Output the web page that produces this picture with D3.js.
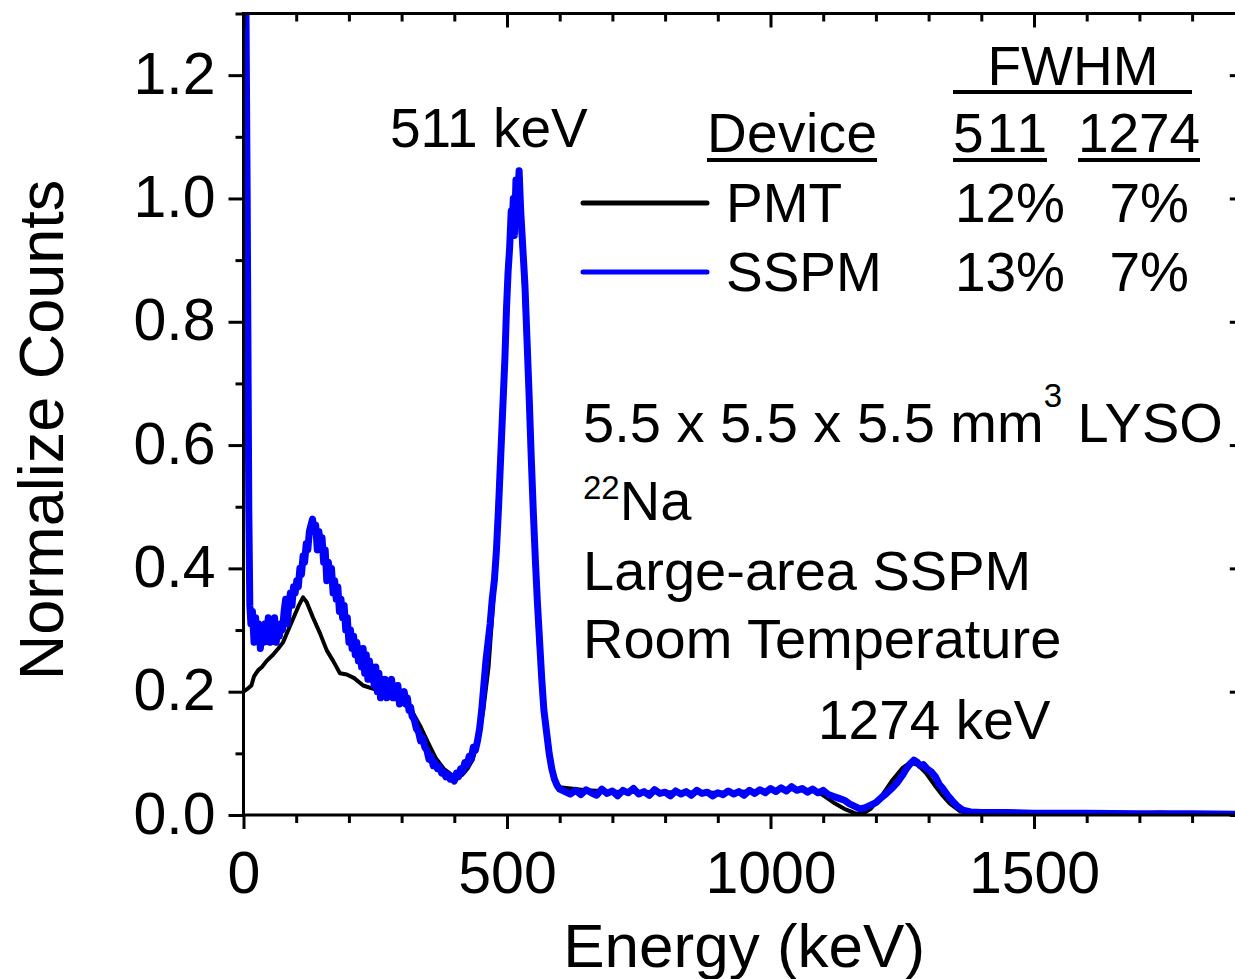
<!DOCTYPE html>
<html>
<head>
<meta charset="utf-8">
<script src="https://cdn.jsdelivr.net/npm/d3@7"></script>
<style>
  html, body { margin: 0; padding: 0; background: #fff; }
  svg text { font-family: Arial, "Liberation Sans", sans-serif; fill: #000; }
</style>
</head>
<body>
<div id="chart"></div>
<script>
// Axis ticks
const xMajor = [0, 500, 1000, 1500];
const xMinor = [100, 200, 300, 400, 600, 700, 800, 900, 1100, 1200, 1300, 1400, 1600, 1700, 1800];
const yMajor = [0, 0.2, 0.4, 0.6, 0.8, 1.0, 1.2];
const yMinor = [0.1, 0.3, 0.5, 0.7, 0.9, 1.1, 1.3];

// PMT spectrum (energy keV, normalized counts)
const pmtEnergy = [0, 8, 15, 20, 28, 35, 44, 56, 66, 75, 85, 95, 105, 113, 120, 132, 145, 158, 170, 183, 196,
  210, 227, 245, 265, 285, 305, 320, 335, 350, 365, 380, 395, 405, 415, 425, 435, 445, 455, 465, 475,
  485, 495, 505, 512, 518, 524, 530, 540, 550, 560, 570, 580, 590, 600, 650, 700, 800, 900, 1000, 1050,
  1080, 1100, 1120, 1140, 1160, 1175, 1190, 1210, 1230, 1250, 1265, 1280, 1295, 1310, 1325, 1340, 1360,
  1380, 1500, 1700, 1740, 1780, 1900];
const pmtCounts = [0.20, 0.205, 0.21, 0.225, 0.235, 0.24, 0.25, 0.26, 0.27, 0.28, 0.30, 0.32, 0.34, 0.353, 0.345,
  0.32, 0.295, 0.267, 0.25, 0.23, 0.228, 0.222, 0.21, 0.205, 0.20, 0.197, 0.188, 0.168, 0.145, 0.118, 0.092,
  0.075, 0.065, 0.062, 0.065, 0.075, 0.09, 0.12, 0.17, 0.24, 0.36, 0.55, 0.75, 0.91, 0.98, 1.0, 0.97, 0.90,
  0.70, 0.47, 0.28, 0.16, 0.09, 0.058, 0.045, 0.04, 0.038, 0.037, 0.036, 0.04, 0.042, 0.04, 0.032, 0.02,
  0.01, 0.003, 0.002, 0.01, 0.03, 0.055, 0.076, 0.085, 0.081, 0.068, 0.05, 0.033, 0.019, 0.006, 0.002,
  0.001, 0.002, 0.004, 0.002, 0.001];

// SSPM spectrum (energy keV, normalized counts)
const sspmEnergy = [0, 4, 7, 10, 12, 14, 17, 20, 23, 26, 29, 32, 35, 38, 41, 44, 47, 50, 53, 56, 59, 62, 65, 68,
  71, 74, 77, 80, 83, 86, 89, 92, 95, 98, 101, 104, 107, 110, 113, 116, 119, 122, 125, 128, 131, 134, 137,
  140, 143, 146, 149, 152, 155, 158, 161, 164, 167, 170, 173, 176, 179, 182, 185, 188, 191, 194, 197, 200,
  203, 206, 209, 212, 215, 218, 221, 224, 227, 230, 233, 236, 239, 242, 245, 248, 251, 254, 257, 260, 263,
  266, 269, 272, 275, 278, 281, 284, 287, 290, 293, 296, 299, 302, 305, 308, 311, 314, 317, 320, 324, 328,
  332, 336, 340, 344, 348, 352, 356, 360, 364, 368, 372, 376, 380, 384, 388, 392, 396, 400, 404, 408, 412,
  416, 420, 424, 428, 432, 436, 440, 444, 448, 452, 456, 460, 464, 468, 472, 476, 480, 484, 488, 492, 496,
  499, 502, 505, 508, 510, 512, 514, 517, 520, 523, 526, 530, 534, 538, 542, 546, 550, 554, 558, 562, 566,
  570, 575, 580, 585, 590, 595, 600, 610, 620, 630, 640, 650, 660, 670, 680, 690, 700, 710, 720, 730, 740,
  750, 760, 770, 780, 790, 800, 810, 820, 830, 840, 850, 860, 870, 880, 890, 900, 910, 920, 930, 940, 950,
  960, 970, 980, 990, 1000, 1010, 1020, 1030, 1040, 1050, 1060, 1070, 1080, 1090, 1100, 1110, 1120, 1130,
  1140, 1150, 1160, 1170, 1180, 1190, 1200, 1210, 1220, 1230, 1240, 1250, 1258, 1265, 1272, 1278, 1284,
  1290, 1297, 1305, 1313, 1320, 1328, 1336, 1345, 1355, 1365, 1380, 1400, 1450, 1500, 1600, 1700, 1800, 1900];
const sspmCounts = [1.40, 1.40, 1.00, 0.50, 0.34, 0.31, 0.33, 0.28, 0.32, 0.29, 0.31, 0.27, 0.30, 0.28, 0.31,
  0.29, 0.32, 0.28, 0.31, 0.29, 0.32, 0.28, 0.30, 0.29, 0.31, 0.30, 0.33, 0.35, 0.31, 0.34, 0.36, 0.34, 0.37,
  0.36, 0.38, 0.37, 0.40, 0.39, 0.42, 0.41, 0.44, 0.43, 0.46, 0.47, 0.48, 0.46, 0.47, 0.43, 0.46, 0.44, 0.45,
  0.41, 0.43, 0.38, 0.41, 0.39, 0.40, 0.36, 0.38, 0.35, 0.37, 0.33, 0.35, 0.32, 0.34, 0.30, 0.32, 0.28, 0.30,
  0.27, 0.29, 0.26, 0.28, 0.25, 0.27, 0.24, 0.27, 0.23, 0.26, 0.22, 0.25, 0.22, 0.24, 0.21, 0.24, 0.20, 0.23,
  0.19, 0.22, 0.20, 0.22, 0.19, 0.21, 0.20, 0.22, 0.19, 0.21, 0.19, 0.21, 0.18, 0.20, 0.19, 0.20, 0.18, 0.19,
  0.17, 0.175, 0.16, 0.155, 0.14, 0.135, 0.12, 0.125, 0.11, 0.105, 0.09, 0.095, 0.08, 0.085, 0.075, 0.078,
  0.068, 0.07, 0.062, 0.066, 0.058, 0.062, 0.055, 0.068, 0.062, 0.075, 0.07, 0.085, 0.08, 0.095, 0.09, 0.11,
  0.105, 0.12, 0.14, 0.17, 0.21, 0.25, 0.28, 0.31, 0.35, 0.38, 0.43, 0.50, 0.58, 0.66, 0.74, 0.82, 0.88,
  0.92, 0.98, 0.96, 1.00, 0.94, 1.03, 1.00, 1.045, 0.98, 0.92, 0.86, 0.77, 0.68, 0.58, 0.49, 0.41, 0.34, 0.28,
  0.22, 0.17, 0.135, 0.10, 0.075, 0.058, 0.048, 0.042, 0.038, 0.034, 0.040, 0.033, 0.041, 0.036, 0.032,
  0.042, 0.035, 0.039, 0.031, 0.040, 0.036, 0.043, 0.034, 0.038, 0.032, 0.041, 0.035, 0.037, 0.031, 0.039,
  0.034, 0.038, 0.032, 0.040, 0.035, 0.037, 0.031, 0.036, 0.033, 0.039, 0.034, 0.038, 0.032, 0.040, 0.035,
  0.041, 0.036, 0.043, 0.038, 0.044, 0.039, 0.046, 0.040, 0.043, 0.037, 0.042, 0.036, 0.040, 0.033, 0.030,
  0.027, 0.024, 0.018, 0.014, 0.010, 0.012, 0.016, 0.020, 0.028, 0.035, 0.043, 0.052, 0.064, 0.075, 0.083,
  0.089, 0.086, 0.080, 0.082, 0.075, 0.070, 0.062, 0.050, 0.042, 0.032, 0.023, 0.014, 0.008, 0.005, 0.004,
  0.004, 0.003, 0.003, 0.002, 0.002, 0.001, 0.001];

// Legend / FWHM table
const devices = ["PMT", "SSPM"];
const deviceColors = ["#000000", "#0000ff"];
const fwhm511 = ["12%", "13%"];
const fwhm1274 = ["7%", "7%"];

const svgWidth = 1235;
const svgHeight = 979;
const plot = { left: 243.5, right: 1244.8, top: 13.5, bottom: 815 };

const svg = d3.select("#chart").append("svg")
    .attr("width", svgWidth)
    .attr("height", svgHeight);

const xScale = d3.scaleLinear().domain([0, 1900]).range([plot.left, plot.right]);
const yScale = d3.scaleLinear().domain([0, 1.3]).range([plot.bottom, plot.top]);

svg.append("clipPath").attr("id", "plot-clip")
    .append("rect")
    .attr("x", plot.left).attr("y", plot.top)
    .attr("width", plot.right - plot.left).attr("height", plot.bottom - plot.top);

// Spectra
const line = d3.line().x(d => xScale(d[0])).y(d => yScale(d[1]));
const pmtData = pmtEnergy.map((e, i) => [e, pmtCounts[i]]);
const sspmData = sspmEnergy.map((e, i) => [e, sspmCounts[i]]);

const curves = svg.append("g").attr("clip-path", "url(#plot-clip)");
curves.append("path").datum(pmtData)
    .attr("d", line).attr("fill", "none")
    .attr("stroke", "#000").attr("stroke-width", 4).attr("stroke-linejoin", "round");
curves.append("path").datum(sspmData)
    .attr("d", line).attr("fill", "none")
    .attr("stroke", "#0000ff").attr("stroke-width", 7).attr("stroke-linejoin", "round");

// Axes (ticks only, frame drawn separately)
function styleAxis(g) {
    g.select(".domain").remove();
    g.selectAll(".tick line").attr("stroke", "#000").attr("stroke-width", 3);
}

const bottomMajor = svg.append("g")
    .attr("transform", `translate(0,${plot.bottom})`)
    .call(d3.axisBottom(xScale).tickValues(xMajor).tickSize(14).tickFormat(d3.format("d")))
    .call(styleAxis);
bottomMajor.selectAll("text")
    .attr("y", 78).attr("dy", null)
    .style("font-size", "59px");

svg.append("g")
    .attr("transform", `translate(0,${plot.bottom})`)
    .call(d3.axisBottom(xScale).tickValues(xMinor).tickSize(8).tickFormat(""))
    .call(styleAxis);

svg.append("g")
    .attr("transform", `translate(0,${plot.top})`)
    .call(d3.axisTop(xScale).tickValues(xMajor).tickSize(-14).tickFormat(""))
    .call(styleAxis);
svg.append("g")
    .attr("transform", `translate(0,${plot.top})`)
    .call(d3.axisTop(xScale).tickValues(xMinor).tickSize(-8).tickFormat(""))
    .call(styleAxis);

const leftMajor = svg.append("g")
    .attr("transform", `translate(${plot.left},0)`)
    .call(d3.axisLeft(yScale).tickValues(yMajor).tickSize(15).tickFormat(d3.format(".1f")))
    .call(styleAxis);
leftMajor.selectAll("text")
    .attr("x", -28).attr("dy", null).attr("y", 18)
    .style("font-size", "59px");

svg.append("g")
    .attr("transform", `translate(${plot.left},0)`)
    .call(d3.axisLeft(yScale).tickValues(yMinor).tickSize(8).tickFormat(""))
    .call(styleAxis);

svg.append("g")
    .attr("transform", `translate(${plot.right},0)`)
    .call(d3.axisRight(yScale).tickValues(yMajor).tickSize(-15).tickFormat(""))
    .call(styleAxis);
svg.append("g")
    .attr("transform", `translate(${plot.right},0)`)
    .call(d3.axisRight(yScale).tickValues(yMinor).tickSize(-8).tickFormat(""))
    .call(styleAxis);

// Frame
svg.append("rect")
    .attr("x", plot.left).attr("y", plot.top)
    .attr("width", plot.right - plot.left).attr("height", plot.bottom - plot.top)
    .attr("fill", "none").attr("stroke", "#000").attr("stroke-width", 3);

// Axis titles
svg.append("text")
    .attr("x", (plot.left + plot.right) / 2).attr("y", 967)
    .attr("text-anchor", "middle").style("font-size", "62px")
    .text("Energy (keV)");

svg.append("text")
    .attr("transform", "translate(63,430) rotate(-90)")
    .attr("text-anchor", "middle").style("font-size", "63px")
    .text("Normalize Counts");

// Peak labels
svg.append("text").attr("x", 390).attr("y", 147).style("font-size", "55px").text("511 keV");
svg.append("text").attr("x", 818).attr("y", 739).style("font-size", "55px").text("1274 keV");

// Legend table
const fs = "55px";
svg.append("text").attr("x", 1073).attr("y", 85).attr("text-anchor", "middle").style("font-size", fs).text("FWHM");
svg.append("line").attr("x1", 953).attr("x2", 1192).attr("y1", 92).attr("y2", 92)
    .attr("stroke", "#000").attr("stroke-width", 4);

const headers = [
    { label: "Device", x1: 707, x2: 877 },
    { label: "511", x1: 953, x2: 1047 },
    { label: "1274", x1: 1078, x2: 1200 }
];
headers.forEach(h => {
    svg.append("text").attr("x", h.x1).attr("y", 152).style("font-size", fs)
        .attr("textLength", h.x2 - h.x1).text(h.label);
    svg.append("line").attr("x1", h.x1).attr("x2", h.x2).attr("y1", 160).attr("y2", 160)
        .attr("stroke", "#000").attr("stroke-width", 4);
});

const rowY = [222, 291];
devices.forEach((dev, i) => {
    svg.append("line")
        .attr("x1", 583).attr("x2", 707)
        .attr("y1", rowY[i] - 19).attr("y2", rowY[i] - 19)
        .attr("stroke", deviceColors[i]).attr("stroke-width", 5).attr("stroke-linecap", "round");
    svg.append("text").attr("x", 726).attr("y", rowY[i]).style("font-size", fs).text(dev);
    svg.append("text").attr("x", 1065).attr("y", rowY[i]).attr("text-anchor", "end").style("font-size", fs).text(fwhm511[i]);
    svg.append("text").attr("x", 1189).attr("y", rowY[i]).attr("text-anchor", "end").style("font-size", fs).text(fwhm1274[i]);
});

// Description block
const dfs = "56px";
const desc = svg.append("g");
const t1 = desc.append("text").attr("x", 583).attr("y", 442).style("font-size", dfs);
t1.append("tspan").text("5.5 x 5.5 x 5.5 mm");
t1.append("tspan").attr("dy", -35).style("font-size", "33px").text("3");
t1.append("tspan").attr("dy", 35).text(" LYSO");

const t2 = desc.append("text").attr("x", 583).attr("y", 520).style("font-size", dfs);
t2.append("tspan").attr("dy", -21).style("font-size", "33px").text("22");
t2.append("tspan").attr("dy", 21).text("Na");

desc.append("text").attr("x", 583).attr("y", 590).style("font-size", dfs).text("Large-area SSPM");
desc.append("text").attr("x", 583).attr("y", 658).style("font-size", dfs).text("Room Temperature");
</script>
</body>
</html>
